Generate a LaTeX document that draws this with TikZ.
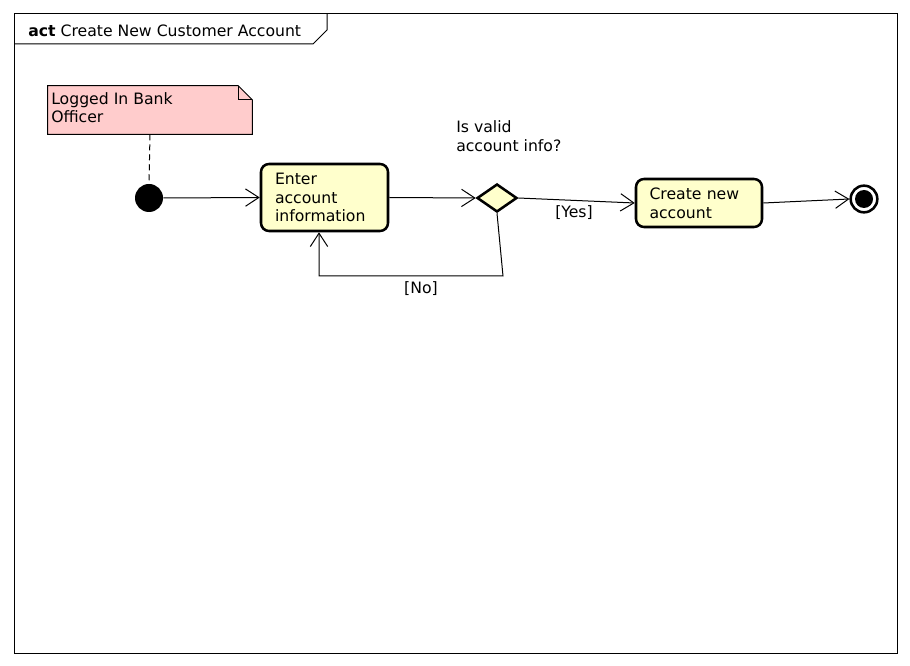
\documentclass[tikz,border=0pt]{standalone}
\usepackage{fontspec}
\setmainfont{DejaVu Sans}
\usepackage{tikz}
\usetikzlibrary{arrows.meta,shapes.geometric,positioning,calc}
\definecolor{umlNote}  {RGB}{255, 204, 204}
\definecolor{umlAct}   {RGB}{255, 255, 204}

\begin{document}
\begin{tikzpicture}[x=0.75pt,y=-0.75pt,
    font=\fontsize{11.75}{14}\selectfont,
    actbox/.style={draw,fill=umlAct,rounded corners=6pt,line width=1.9pt,
                   align=left,inner ysep=0pt},
    flow/.style={line width=0.75pt,-{Straight Barb[length=10pt,width=13pt]}}]

    \useasboundingbox (0,0) rectangle (910,666);

    % ── frame ────────────────────────────────────────────
    \draw[line width=0.75pt] (14,14) rectangle (897,653);
    \draw[line width=0.75pt] (14,44) -- (313,44) -- (327,30) -- (327,14);
    \node[anchor=base west,inner sep=0pt] (title) at (28,37)
          {\textbf{act} Create New Customer Account};

    % ── note ─────────────────────────────────────────────
    \node[minimum width=153pt,minimum height=36pt,inner sep=0pt] (note) at (150,110){};
    \draw[fill=umlNote,line width=0.75pt]
          (note.north west) -- ([xshift=-10.5pt]note.north east)
          -- ([yshift=-10.5pt]note.north east) -- (note.south east)
          -- (note.south west) -- cycle;
    \draw[line width=0.75pt] ([xshift=-10.5pt]note.north east)
          |- ([yshift=-10.5pt]note.north east);
    \node[anchor=west,align=left,inner sep=0pt] (notetxt) at (51,107.5)
          {Logged In Bank\\Officer};

    % ── nodes ────────────────────────────────────────────
    \node[circle,fill=black,minimum size=21pt,inner sep=0pt] (init) at (149,198){};
    \node[actbox,minimum width=95.25pt,minimum height=50.25pt,
          text width=74.25pt,inner xsep=10.5pt] (enter) at (324.5,197.5)
          {Enter\\account\\information};
    \node[diamond,draw,fill=umlAct,line width=1.9pt,minimum width=30pt,
          minimum height=21pt,inner sep=0pt] (valid) at (497,198){};
    \node[anchor=west,align=left,inner sep=0pt] (validtxt) at (456,136)
          {Is valid\\account info?};
    \node[actbox,minimum width=94.5pt,minimum height=36pt,
          text width=74.25pt,inner xsep=9.75pt] (create) at (699,203)
          {Create new\\account};
    \node[circle,draw,fill=white,line width=1.9pt,minimum size=20pt,inner sep=0pt]
          (final) at (864,199){};
    \node[circle,fill=black,minimum size=13.5pt,inner sep=0pt] (finaldot) at (final){};

    % ── flows ────────────────────────────────────────────
    \draw[line width=0.75pt,dash pattern=on 4.5pt off 3pt] (note.south) -- (init.north);
    \draw[flow] (init.east) -- (enter.west);
    \draw[flow] (enter.east) -- (valid.west);
    \draw[flow] (valid.east) -- (create.west);
    \node (yes) at (574,213){[Yes]};
    \coordinate (nobend) at (503,276);
    \coordinate (noleft) at (319,276);
    \draw[flow] (valid.south) -- (nobend) -- (noleft) -- (noleft |- enter.south);
    \node (no) at (421,289){[No]};
    \draw[flow] (create.east) -- (final.west);

\end{tikzpicture}
\end{document}
